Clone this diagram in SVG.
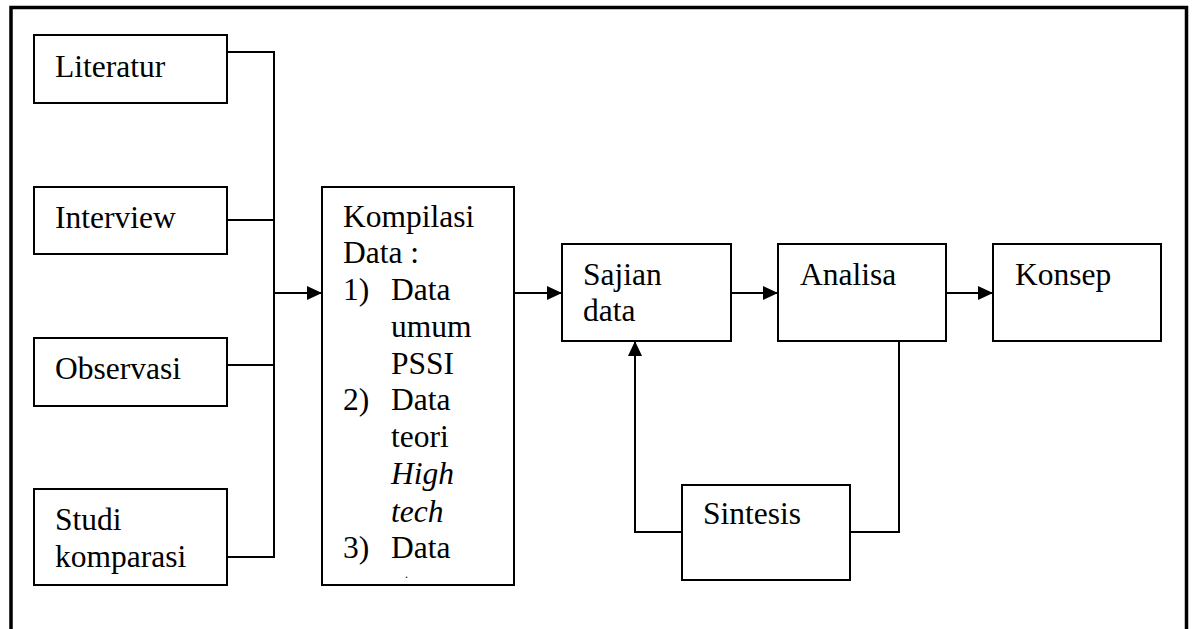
<svg xmlns="http://www.w3.org/2000/svg" width="1194" height="629" viewBox="0 0 1194 629">
<style>
.box{fill:#fff;stroke:#000;stroke-width:2}
.c{fill:none;stroke:#000;stroke-width:2}
</style>
<defs>
<marker id="ah" markerWidth="15" markerHeight="14" refX="15" refY="7" orient="auto" markerUnits="userSpaceOnUse">
<path d="M0,0 L15,7 L0,14 Z" fill="#000"/>
</marker>
</defs>
<rect width="1194" height="629" fill="#fff"/>
<path d="M11,629 V7.5 H1186.5 V629" fill="none" stroke="#000" stroke-width="3.5"/>
<g id="connectors">
<path class="c" d="M227,52 H274 V557 H227"/>
<path class="c" d="M227,220 H274"/>
<path class="c" d="M227,365 H274"/>
<path class="c" d="M274,293 H322" marker-end="url(#ah)"/>
<path class="c" d="M514,293 H562" marker-end="url(#ah)"/>
<path class="c" d="M731,293 H778" marker-end="url(#ah)"/>
<path class="c" d="M946,293 H993" marker-end="url(#ah)"/>
<path class="c" d="M899,341 V532 H850"/>
<path class="c" d="M682,532 H635 V341" marker-end="url(#ah)"/>
</g>
<g id="literatur"><rect class="box" x="34" y="35" width="193" height="68"/><text x="55" y="77" font-family="Liberation Serif" font-size="31.5">Literatur</text></g>
<g id="interview"><rect class="box" x="34" y="187" width="193" height="67"/><text x="55" y="228" font-family="Liberation Serif" font-size="31.5">Interview</text></g>
<g id="observasi"><rect class="box" x="34" y="338" width="193" height="68"/><text x="55" y="379" font-family="Liberation Serif" font-size="31.5">Observasi</text></g>
<g id="studi"><rect class="box" x="34" y="489" width="193" height="96"/><text x="55" y="530" font-family="Liberation Serif" font-size="31.5">Studi</text><text x="55" y="567" font-family="Liberation Serif" font-size="31.5">komparasi</text></g>
<g id="kompilasi"><rect class="box" x="322" y="187" width="192" height="398"/>
<text x="343" y="227" font-family="Liberation Serif" font-size="31.5">Kompilasi</text>
<text x="343" y="263" font-family="Liberation Serif" font-size="31.5">Data :</text>
<text x="343" y="300" font-family="Liberation Serif" font-size="31.5">1)</text><text x="391" y="300" font-family="Liberation Serif" font-size="31.5">Data</text>
<text x="391" y="337" font-family="Liberation Serif" font-size="31.5">umum</text>
<text x="391" y="374" font-family="Liberation Serif" font-size="31.5">PSSI</text>
<text x="343" y="410" font-family="Liberation Serif" font-size="31.5">2)</text><text x="391" y="410" font-family="Liberation Serif" font-size="31.5">Data</text>
<text x="391" y="447" font-family="Liberation Serif" font-size="31.5">teori</text>
<text x="391" y="484" font-family="Liberation Serif" font-size="31.5" font-style="italic">High</text>
<text x="391" y="522" font-family="Liberation Serif" font-size="31.5" font-style="italic">tech</text>
<text x="343" y="558" font-family="Liberation Serif" font-size="31.5">3)</text><text x="391" y="558" font-family="Liberation Serif" font-size="31.5">Data</text>
<text x="405" y="578" font-family="Liberation Serif" font-size="12">.</text>
</g>
<g id="sajian"><rect class="box" x="562" y="244" width="169" height="97"/><text x="583" y="285" font-family="Liberation Serif" font-size="31.5">Sajian</text><text x="583" y="321" font-family="Liberation Serif" font-size="31.5">data</text></g>
<g id="analisa"><rect class="box" x="778" y="244" width="168" height="97"/><text x="800" y="285" font-family="Liberation Serif" font-size="31.5">Analisa</text></g>
<g id="konsep"><rect class="box" x="993" y="244" width="168" height="97"/><text x="1015" y="285" font-family="Liberation Serif" font-size="31.5">Konsep</text></g>
<g id="sintesis"><rect class="box" x="682" y="485" width="168" height="95"/><text x="703" y="524" font-family="Liberation Serif" font-size="31.5">Sintesis</text></g>
</svg>
